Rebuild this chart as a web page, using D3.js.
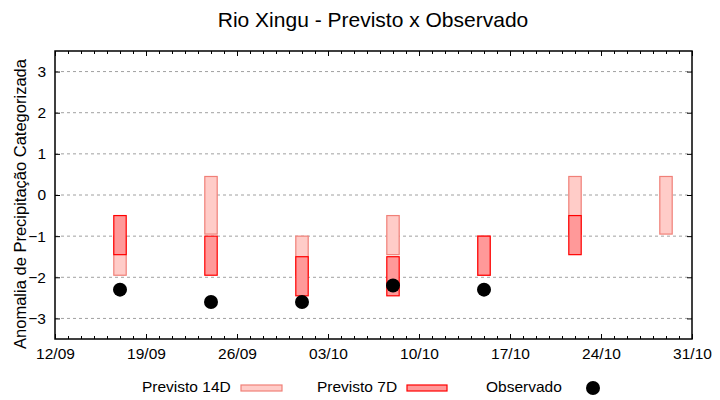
<!DOCTYPE html>
<html><head><meta charset="utf-8">
<script src="https://cdn.jsdelivr.net/npm/d3@7"></script>
<style>body{margin:0;background:#fff}svg{display:block}</style>
</head><body>
<svg id="c" width="720" height="400"></svg>
<script>
const dates = ["2025-09-17","2025-09-24","2025-10-01","2025-10-08","2025-10-15","2025-10-22","2025-10-29"];
const prev14Top = [-1.0, 0.45, -1.0, -0.5, -1.0, 0.45, 0.45];
const prev14Bot = [-1.95, -0.95, -1.95, -1.45, -1.95, -0.95, -0.95];
const prev7Top = [-0.5, -1.0, -1.5, -1.5, -1.0, -0.5, null];
const prev7Bot = [-1.45, -1.95, -2.45, -2.45, -1.95, -1.45, null];
const observed = [-2.3, -2.6, -2.6, -2.2, -2.3, null, null];
const yTicks = [-3, -2, -1, 0, 1, 2, 3];
const xTickLabels = ["12/09","19/09","26/09","03/10","10/10","17/10","24/10","31/10"];
const title = "Rio Xingu - Previsto x Observado";
const yLabel = "Anomalia de Precipitação Categorizada";
const legendLabels = ["Previsto 14D","Previsto 7D","Observado"];

const parse = d3.utcParse("%Y-%m-%d");
const svg = d3.select("#c");
const font = "'Liberation Sans', Arial, sans-serif";
const L = 55, R = 692, T = 51, B = 339;
const x = d3.scaleUtc().domain([parse("2025-09-12"), parse("2025-10-31")]).range([L, R]);
const y = d3.scaleLinear().domain([-3.5, 3.5]).range([B, T]);
const day = 864e5;
const xTickDates = xTickLabels.map((_, i) => new Date(parse("2025-09-12").getTime() + i * 7 * day));
const minorDates = d3.range(0, 50).map(i => new Date(parse("2025-09-12").getTime() + i * day));

// grid
svg.append("g").selectAll("line").data(yTicks).join("line")
  .attr("x1", L).attr("x2", R).attr("y1", d => y(d)).attr("y2", d => y(d))
  .attr("stroke", "#a0a0a0").attr("stroke-width", 1).attr("stroke-dasharray", "3,3");

const halfW = 6.2;
const data = dates.map((d, i) => ({t: parse(d), a: prev14Top[i], b: prev14Bot[i], c: prev7Top[i], e: prev7Bot[i], o: observed[i]}));

// 14D bars
svg.append("g").selectAll("rect").data(data.filter(d => d.a != null)).join("rect")
  .attr("x", d => x(d.t) - halfW).attr("width", 2 * halfW)
  .attr("y", d => y(d.a)).attr("height", d => y(d.b) - y(d.a))
  .attr("fill", "#ffccc8").attr("stroke", "#f08078").attr("stroke-width", 1.2);
// 7D bars
svg.append("g").selectAll("rect").data(data.filter(d => d.c != null)).join("rect")
  .attr("x", d => x(d.t) - halfW).attr("width", 2 * halfW)
  .attr("y", d => y(d.c)).attr("height", d => y(d.e) - y(d.c))
  .attr("fill", "#ff9999").attr("stroke", "#ff0000").attr("stroke-width", 1.2);
// observed
svg.append("g").selectAll("circle").data(data.filter(d => d.o != null)).join("circle")
  .attr("cx", d => x(d.t)).attr("cy", d => y(d.o)).attr("r", 7).attr("fill", "#000");

// axes: ticks inward
const axB = svg.append("g").attr("transform", `translate(0,${B})`)
  .call(d3.axisBottom(x).tickValues(xTickDates).tickSize(-5).tickSizeOuter(0).tickFormat((d, i) => xTickLabels[i]).tickPadding(9));
const axBm = svg.append("g").attr("transform", `translate(0,${B})`)
  .call(d3.axisBottom(x).tickValues(minorDates).tickSize(-3).tickSizeOuter(0).tickFormat(""));
const axT = svg.append("g").attr("transform", `translate(0,${T})`)
  .call(d3.axisTop(x).tickValues(xTickDates).tickSize(-5).tickSizeOuter(0).tickFormat(""));
const axTm = svg.append("g").attr("transform", `translate(0,${T})`)
  .call(d3.axisTop(x).tickValues(minorDates).tickSize(-3).tickSizeOuter(0).tickFormat(""));
const axL = svg.append("g").attr("transform", `translate(${L},0)`)
  .call(d3.axisLeft(y).tickValues(yTicks).tickSize(-5).tickSizeOuter(0).tickPadding(9).tickFormat(d3.format("d")));
const axR = svg.append("g").attr("transform", `translate(${R},0)`)
  .call(d3.axisRight(y).tickValues(yTicks).tickSize(-5).tickSizeOuter(0).tickFormat(""));
[axB, axBm, axT, axTm, axL, axR].forEach(g => {
  g.select(".domain").remove();
  g.selectAll(".tick line").attr("stroke", "#000").attr("stroke-width", 1);
  g.selectAll("text").attr("font-family", font).attr("font-size", 15.5).attr("fill", "#000");
});
axB.selectAll("text").attr("dy", "0.71em");
// frame
svg.append("rect").attr("x", L).attr("y", T).attr("width", R - L).attr("height", B - T)
  .attr("fill", "none").attr("stroke", "#000").attr("stroke-width", 1.5);

// title
svg.append("text").attr("x", 373).attr("y", 27).attr("text-anchor", "middle")
  .attr("font-family", font).attr("font-size", 21).text(title);
// y label
svg.append("text").attr("transform", `translate(26,204) rotate(-90)`).attr("text-anchor", "middle")
  .attr("font-family", font).attr("font-size", 16.5).text(yLabel);

// legend
const lg = svg.append("g").attr("font-family", font).attr("font-size", 15.5);
lg.append("text").attr("x", 142).attr("y", 392).text(legendLabels[0]);
lg.append("rect").attr("x", 241).attr("y", 385).attr("width", 41).attr("height", 6)
  .attr("fill", "#ffccc8").attr("stroke", "#f08078").attr("stroke-width", 1.2);
lg.append("text").attr("x", 317).attr("y", 392).text(legendLabels[1]);
lg.append("rect").attr("x", 407).attr("y", 385).attr("width", 40).attr("height", 6)
  .attr("fill", "#ff9999").attr("stroke", "#ff0000").attr("stroke-width", 1.2);
lg.append("text").attr("x", 486).attr("y", 392).text(legendLabels[2]);
lg.append("circle").attr("cx", 593).attr("cy", 388).attr("r", 7).attr("fill", "#000");
</script>
</body></html>
